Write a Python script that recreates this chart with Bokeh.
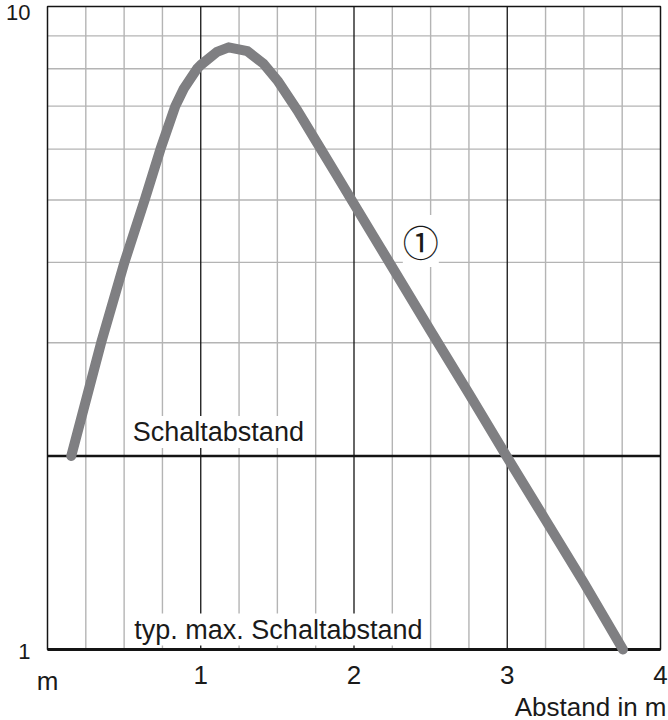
from bokeh.plotting import figure
from bokeh.models import Label, Range1d
from bokeh.embed import file_html
from bokeh.resources import INLINE

# ---- data ----
distance_m = [0.155, 0.350, 0.502, 0.634, 0.737, 0.834, 0.889, 0.976, 1.000,
              1.106, 1.182, 1.305, 1.409, 1.501, 1.631, 1.762, 1.892, 2.000,
              2.125, 2.250, 2.500, 2.750, 3.000, 3.250, 3.500, 3.755]
signal = [2.00, 3.00, 4.00, 5.00, 6.00, 7.00, 7.45, 8.00, 8.11,
          8.50, 8.64, 8.52, 8.15, 7.67, 6.89, 6.12, 5.44, 4.93,
          4.40, 3.93, 3.13, 2.50, 1.99, 1.59, 1.27, 1.00]

x_ticks = [0, 1, 2, 3, 4]
x_tick_labels = ["m", "1", "2", "3", "4"]
x_major_grid = [1, 2, 3]
x_minor_grid = [0.25, 0.5, 0.75, 1.25, 1.5, 1.75, 2.25, 2.5, 2.75, 3.25, 3.5, 3.75]
y_ticks = [1, 10]
y_tick_labels = ["1", "10"]
y_minor_grid = [3, 4, 5, 6, 7, 8, 9]

level_values = [2, 1]
level_labels = ["Schaltabstand", "typ. max. Schaltabstand"]
level_label_x = [0.55, 0.56]

curve_tag = "①"
curve_tag_x = 2.436
curve_tag_y = 4.32

x_title = "Abstand in m"

FONT = "Liberation Sans"
TXT = "#1a1a1a"
DARK = "#141414"
LIGHT = "#b4b4b4"

# frame covers the whole canvas; the chart box (0..4, 1..10) sits inside it
W, H = 668, 720
BOX_L, BOX_R, BOX_T, BOX_B = 47, 660, 6, 649
ppu = (BOX_R - BOX_L) / (x_ticks[-1] - x_ticks[0])
ppd = (BOX_B - BOX_T) / 1.0  # pixels per decade
x0 = x_ticks[0] - BOX_L / ppu
x1 = x_ticks[-1] + (W - BOX_R) / ppu
y1 = 10 ** (1 + BOX_T / ppd)
y0 = 10 ** (-(H - BOX_B) / ppd)

p = figure(width=W, height=H,
           x_range=Range1d(x0, x1), y_range=Range1d(y0, y1),
           y_axis_type="log", output_backend="svg", toolbar_location=None,
           min_border_left=0, min_border_right=0,
           min_border_top=0, min_border_bottom=0)

p.background_fill_color = "white"
p.border_fill_color = "white"
p.outline_line_color = None
p.xaxis.visible = False
p.yaxis.visible = False
p.grid.visible = False

xa, xb = x_ticks[0], x_ticks[-1]
ya, yb = y_ticks[0], y_ticks[-1]

# light grid lines inside the chart box
p.segment(x0=x_minor_grid, x1=x_minor_grid,
          y0=[ya] * len(x_minor_grid), y1=[yb] * len(x_minor_grid),
          line_color=LIGHT, line_width=1.4)
p.segment(x0=[xa] * len(y_minor_grid), x1=[xb] * len(y_minor_grid),
          y0=y_minor_grid, y1=y_minor_grid,
          line_color=LIGHT, line_width=1.4)
# dark lines at whole metres
p.segment(x0=x_major_grid, x1=x_major_grid,
          y0=[ya] * len(x_major_grid), y1=[yb] * len(x_major_grid),
          line_color=DARK, line_width=1.3)

# chart box border
p.quad(left=[xa], right=[xb], bottom=[ya], top=[yb],
       fill_color=None, line_color=DARK, line_width=1.5)

# threshold lines
p.segment(x0=[xa] * len(level_values), x1=[xb] * len(level_values),
          y0=level_values, y1=level_values, line_color=DARK, line_width=[2.6, 3.2])

# curve
p.line(distance_m, signal, line_width=10, line_color="#7f7f82",
       line_cap="round", line_join="round")

# threshold labels
for lx, lv, txt, off in zip(level_label_x, level_values, level_labels, [8, 4]):
    p.add_layout(Label(x=lx, y=lv, y_offset=off, text=txt,
                       text_font=FONT, text_font_size="27px", text_color=TXT,
                       text_baseline="bottom", text_align="left",
                       background_fill_color="white", padding=1))

# curve tag
p.add_layout(Label(x=curve_tag_x, y=curve_tag_y, text=curve_tag,
                   text_font="Noto Sans CJK JP", text_font_size="36px",
                   text_color=TXT, text_align="center", text_baseline="middle",
                   background_fill_color="white", padding=0))

# y tick labels
for yv, yt, base, off in zip(y_ticks, y_tick_labels, ["middle", "top"], [-2, 2]):
    p.add_layout(Label(x=xa, y=yv, x_offset=-17, y_offset=off, text=yt,
                       text_font=FONT, text_font_size="22px", text_color=TXT,
                       text_align="right", text_baseline=base))

# x tick labels
for xv, xt in zip(x_ticks, x_tick_labels):
    p.add_layout(Label(x=xv, y=ya, y_offset=-16, text=xt,
                       text_font=FONT, text_font_size="26px", text_color=TXT,
                       text_align="center", text_baseline="top"))

# x title
p.add_layout(Label(x=xb, y=ya, x_offset=6, y_offset=-42, text=x_title,
                   text_font=FONT, text_font_size="26px", text_color=TXT,
                   text_align="right", text_baseline="top"))

open("out.html", "w").write(file_html(p, INLINE))
